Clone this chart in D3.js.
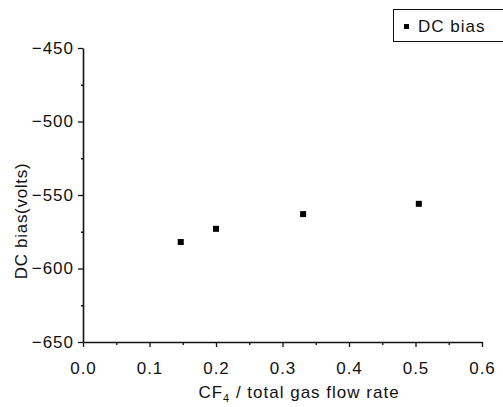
<!DOCTYPE html>
<html>
<head>
<meta charset="utf-8">
<script src="https://cdn.jsdelivr.net/npm/d3@7"></script>
<style>
  body { margin: 0; background: #fff; }
  text { font-family: "Liberation Sans", Arial, sans-serif; fill: #111; }
</style>
</head>
<body>
<div id="chart"></div>
<script>
var width  = 503;
var height = 407;

// data
var flowRatio = [0.147, 0.200, 0.331, 0.505];
var dcBias    = [-582, -573, -563, -556];
var xTicks    = [0.0, 0.1, 0.2, 0.3, 0.4, 0.5, 0.6];
var yTicks    = [-450, -500, -550, -600, -650];
var seriesName = "DC bias";

var plotLeft = 83, plotRight = 482, plotTop = 48, plotBottom = 342;

var svg = d3.select("#chart").append("svg")
    .attr("width", width)
    .attr("height", height);

var x = d3.scaleLinear().domain([0, 0.6]).range([plotLeft, plotRight]);
var y = d3.scaleLinear().domain([-650, -450]).range([plotBottom, plotTop]);

var fmtY = function(d){ return "\u2212" + Math.abs(d); };

// ---------- x axis ----------
var gx = svg.append("g").attr("transform", "translate(0," + plotBottom + ")");
gx.call(d3.axisBottom(x).tickValues(xTicks).tickFormat(d3.format(".1f"))
      .tickSize(5).tickSizeOuter(0).tickPadding(15));
gx.append("g").call(d3.axisBottom(x).tickValues(d3.range(0.05, 0.6, 0.1))
      .tickSize(3).tickFormat("").tickSizeOuter(0))
  .select(".domain").remove();

// ---------- y axis ----------
var gy = svg.append("g").attr("transform", "translate(" + plotLeft + ",0)");
gy.call(d3.axisLeft(y).tickValues(yTicks).tickFormat(fmtY)
      .tickSize(5).tickSizeOuter(0).tickPadding(4));
gy.append("g").call(d3.axisLeft(y).tickValues([-475, -525, -575, -625])
      .tickSize(2).tickFormat("").tickSizeOuter(0))
  .select(".domain").remove();

svg.selectAll(".domain").attr("stroke", "#111").attr("stroke-width", 1.6);
svg.selectAll(".tick line").attr("stroke", "#111").attr("stroke-width", 1.3);
svg.selectAll(".tick text")
    .style("font-family", "'Liberation Sans', Arial, sans-serif")
    .style("font-size", "17px")
    .style("letter-spacing", "1px")
    .attr("fill", "#111");

// ---------- points ----------
var points = flowRatio.map(function(v, i){ return {x: v, y: dcBias[i]}; });
svg.selectAll("rect.pt")
    .data(points)
    .enter()
  .append("rect")
    .attr("class", "pt")
    .attr("x", function(d){ return x(d.x) - 3; })
    .attr("y", function(d){ return y(d.y) - 3; })
    .attr("width", 6)
    .attr("height", 6)
    .attr("fill", "#000");

// ---------- axis titles ----------
var xTitle = svg.append("text")
    .attr("x", 299)
    .attr("y", 398)
    .attr("text-anchor", "middle")
    .style("font-size", "17px")
    .style("letter-spacing", "1px");
xTitle.append("tspan").text("CF");
xTitle.append("tspan").attr("dy", 4).style("font-size", "11px").text("4");
xTitle.append("tspan").attr("dy", -4).text(" / total gas flow rate");

svg.append("text")
    .attr("transform", "translate(27,221) rotate(-90)")
    .attr("text-anchor", "middle")
    .style("font-size", "17px")
    .style("letter-spacing", "0.7px")
    .text("DC bias(volts)");

// ---------- legend ----------
var legend = svg.append("g");
legend.append("rect")
    .attr("x", 393.5).attr("y", 9.5)
    .attr("width", 115).attr("height", 32)
    .attr("fill", "#fff")
    .attr("stroke", "#111")
    .attr("stroke-width", 1);
legend.append("rect")
    .attr("x", 404).attr("y", 24)
    .attr("width", 5).attr("height", 5)
    .attr("fill", "#000");
legend.append("text")
    .attr("x", 418).attr("y", 32)
    .style("font-size", "17px")
    .style("letter-spacing", "1px")
    .text(seriesName);
</script>
</body>
</html>
